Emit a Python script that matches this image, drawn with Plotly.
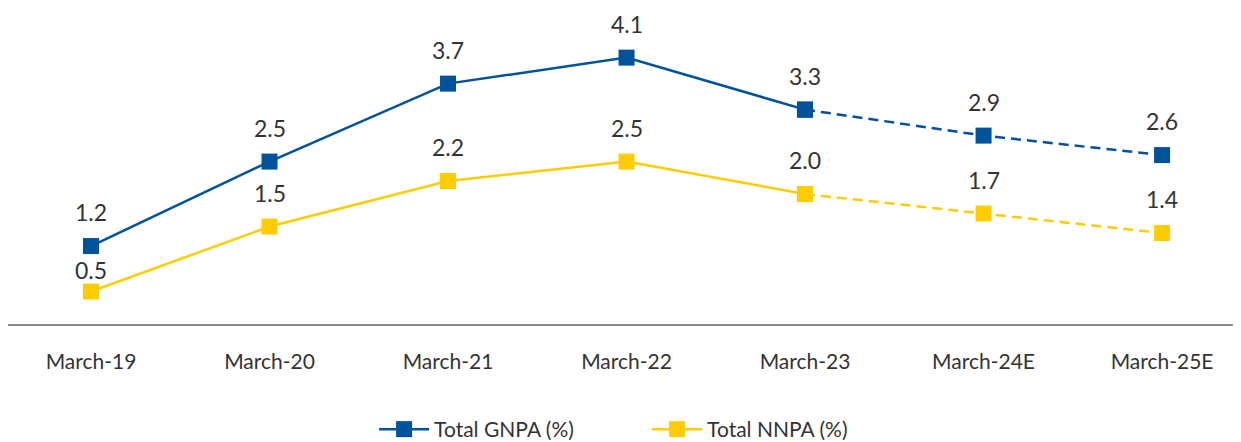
import plotly.graph_objects as go

# ─── Data ────────────────────────────────────────────────────────────────────
years = ["March-19", "March-20", "March-21", "March-22", "March-23", "March-24E", "March-25E"]
gnpa = [1.2, 2.5, 3.7, 4.1, 3.3, 2.9, 2.6]
nnpa = [0.5, 1.5, 2.2, 2.5, 2.0, 1.7, 1.4]
n_actual = 5  # March-19 .. March-23 are actuals, rest are estimates

BLUE = "#00529B"
YELLOW = "#FFCC00"
TEXT = "#333333"
FONT = "Lato, sans-serif"

fig = go.Figure()

for name, vals, color in [("Total GNPA (%)", gnpa, BLUE), ("Total NNPA (%)", nnpa, YELLOW)]:
    # actual part: solid
    fig.add_trace(go.Scatter(
        x=years[:n_actual], y=vals[:n_actual], name=name,
        mode="lines+markers",
        line=dict(color=color, width=2.5),
        marker=dict(symbol="square", size=16, color=color),
    ))
    # estimate part: dashed
    fig.add_trace(go.Scatter(
        x=years[n_actual - 1:], y=vals[n_actual - 1:], name=name,
        mode="lines+markers", showlegend=False,
        line=dict(color=color, width=2.5, dash="10px,6px"),
        marker=dict(symbol="square", size=16, color=color),
    ))
    for i, (x, v) in enumerate(zip(years, vals)):
        # first NNPA label sits tight under the GNPA marker in the original
        shift = 22 if (vals is nnpa and i == 0) else 34
        fig.add_annotation(
            x=x, y=v, text=f"{v:.1f}", showarrow=False,
            yshift=shift, font=dict(family=FONT, size=23, color=TEXT),
        )

fig.update_layout(
    width=1241, height=442,
    paper_bgcolor="white", plot_bgcolor="white",
    margin=dict(l=0, r=0, t=0, b=125),
    font=dict(family=FONT, size=21, color=TEXT),
    showlegend=True,
    legend=dict(
        orientation="h", xanchor="left", x=0.295, yanchor="top", y=-0.27,
        font=dict(family=FONT, size=21, color=TEXT),
        itemwidth=50, entrywidth=208, entrywidthmode="pixels",
    ),
    xaxis=dict(
        type="category", range=[-0.465, 6.487],
        showgrid=False, zeroline=False,
        showline=True, linecolor="#8c8c8c", linewidth=1.5,
        ticks="", ticklabelstandoff=18,
        tickfont=dict(family=FONT, size=21, color=TEXT),
    ),
    yaxis=dict(
        range=[0, 4.864], visible=False, showgrid=False, zeroline=False,
    ),
)

fig.write_html("out.html")
